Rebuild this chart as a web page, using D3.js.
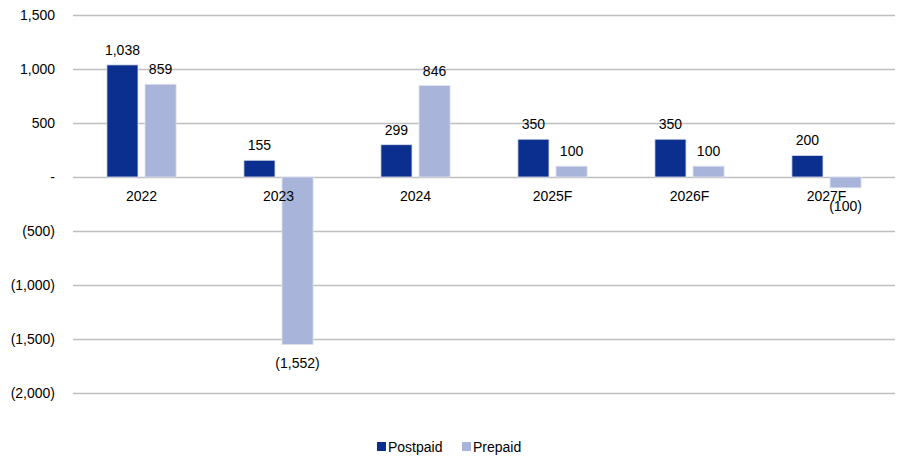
<!DOCTYPE html>
<html>
<head>
<meta charset="utf-8">
<script src="https://cdn.jsdelivr.net/npm/d3@7"></script>
<style>
  body { margin: 0; background: #fff; }
  svg text { font-family: "Liberation Sans", Arial, sans-serif; fill: #000; }
</style>
</head>
<body>
<svg id="chart" width="904" height="460"></svg>
<script>
// Net subscriber additions by year (thousands)
const years = ["2022", "2023", "2024", "2025F", "2026F", "2027F"];
const postpaid = [1038, 155, 299, 350, 350, 200];
const prepaid = [859, -1552, 846, 100, 100, -100];
const seriesNames = ["Postpaid", "Prepaid"];
const seriesColors = ["#0b2f8e", "#a8b4da"];
const yTicks = [1500, 1000, 500, 0, -500, -1000, -1500, -2000];

const svg = d3.select("#chart");
const plot = { left: 73, right: 895, top: 15, bottom: 393 };
const fontSize = 14;

const x = d3.scaleBand().domain(years).range([plot.left, plot.right]).paddingInner(0).paddingOuter(0);
const xs = d3.scaleBand().domain(seriesNames).range([0, x.bandwidth()]).paddingInner(0.184).paddingOuter(0.89);
const y = d3.scaleLinear().domain([-2000, 1500]).range([plot.bottom, plot.top]);

const fmt = v => {
  if (v === 0) return "-";
  const s = d3.format(",")(Math.abs(v));
  return v < 0 ? "(" + s + ")" : s;
};

// gridlines and y labels
const yAxis = d3.axisLeft(y).tickValues(yTicks).tickSize(-(plot.right - plot.left)).tickFormat(fmt).tickPadding(18);
const gy = svg.append("g").attr("transform", `translate(${plot.left},0)`).call(yAxis);
gy.select(".domain").remove();
gy.selectAll(".tick line").attr("stroke", "#bfbfbf").attr("stroke-width", 1.3);
gy.selectAll(".tick text").attr("font-size", fontSize).attr("fill", "#000");

// bars
const rows = years.map((yr, i) => ({ year: yr, values: [postpaid[i], prepaid[i]] }));
const groups = svg.append("g").selectAll("g").data(rows).join("g")
  .attr("transform", d => `translate(${x(d.year)},0)`);

groups.selectAll("rect").data(d => d.values.map((v, k) => ({ v, k })))
  .join("rect")
  .attr("x", d => xs(seriesNames[d.k]))
  .attr("width", xs.bandwidth())
  .attr("y", d => y(Math.max(0, d.v)))
  .attr("height", d => Math.abs(y(d.v) - y(0)))
  .attr("fill", d => seriesColors[d.k])
  .attr("stroke", "#dfe3ef")
  .attr("stroke-width", 0.8);

// value labels: above positive bars, below negative ones
groups.selectAll("text.val").data(d => d.values.map((v, k) => ({ v, k })))
  .join("text")
  .attr("class", "val")
  .attr("x", d => xs(seriesNames[d.k]) + xs.bandwidth() / 2)
  .attr("y", d => d.v >= 0 ? y(d.v) - 10 : y(d.v) + 23)
  .attr("text-anchor", "middle")
  .attr("font-size", fontSize)
  .text(d => fmt(d.v));

// category labels just below zero line
const gx = svg.append("g").attr("transform", `translate(0,${y(0)})`)
  .call(d3.axisBottom(x).tickSize(0).tickPadding(14));
gx.select(".domain").remove();
gx.selectAll(".tick text").attr("font-size", fontSize).attr("fill", "#000");

// legend
const legend = svg.append("g").attr("transform", "translate(0,452)");
const legendX = [377, 462];
seriesNames.forEach((name, i) => {
  legend.append("rect").attr("x", legendX[i]).attr("y", -10).attr("width", 9).attr("height", 9)
    .attr("fill", seriesColors[i]);
  legend.append("text").attr("x", legendX[i] + 11).attr("y", 0).attr("font-size", fontSize).text(name);
});
</script>
</body>
</html>
